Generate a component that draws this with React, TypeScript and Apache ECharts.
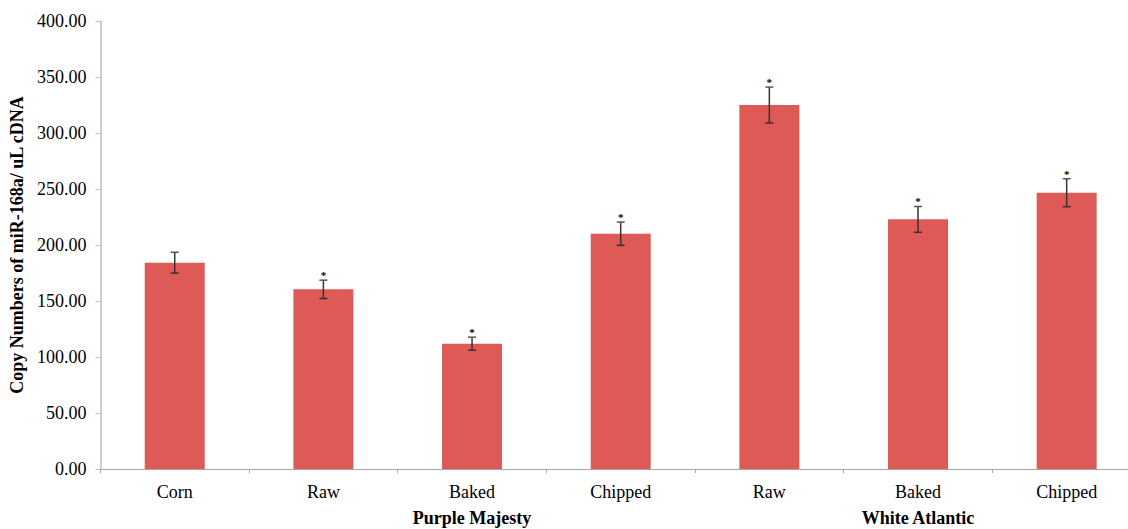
import React, { useEffect, useRef } from "react";
import * as echarts from "echarts";

const categories = ["Corn", "Raw", "Baked", "Chipped", "Raw", "Baked", "Chipped"];
const groupLabels = ["", "", "Purple Majesty", "", "", "White Atlantic", ""];
const values = [184.2, 160.4, 111.9, 210.1, 325.0, 222.9, 246.7];
const errors = [9.3, 8.2, 5.8, 10.4, 16.0, 11.5, 12.5];
const significant = [false, true, true, true, true, true, true];
const yTicks = { min: 0, max: 400, interval: 50 };

const FONT = "'Liberation Serif', 'Times New Roman', serif";

export default function App() {
  const ref = useRef<HTMLDivElement>(null);
  useEffect(() => {
    if (!ref.current) return;
    const chart = echarts.init(ref.current, null, { renderer: "svg" });
    const errData = values.map((v, i) => [i, v - errors[i], v + errors[i], significant[i] ? 1 : 0]);
    chart.setOption({
      animation: false,
      grid: { left: 96, top: 21, height: 448, width: 1045, containLabel: false },
      xAxis: [
        {
          type: "category",
          data: categories,
          position: "bottom",
          axisLine: { lineStyle: { color: "#a6a6a6", width: 1 } },
          axisTick: { show: true, length: 4, lineStyle: { color: "#a6a6a6" } },
          axisLabel: { fontFamily: FONT, fontSize: 18, color: "#000", margin: 14 },
        },
        {
          type: "category",
          data: groupLabels,
          position: "bottom",
          offset: 26,
          axisLine: { show: false },
          axisTick: { show: false },
          axisLabel: { fontFamily: FONT, fontSize: 18, fontWeight: "bold", color: "#000", margin: 14, interval: 0 },
        },
      ],
      yAxis: {
        type: "value",
        min: yTicks.min,
        max: yTicks.max,
        interval: yTicks.interval,
        name: "Copy Numbers of miR-168a/ uL cDNA",
        nameLocation: "middle",
        nameGap: 68,
        nameTextStyle: { fontFamily: FONT, fontSize: 18, fontWeight: "bold", color: "#000" },
        axisLine: { show: true, lineStyle: { color: "#bfbfbf", width: 1.5 } },
        axisTick: { show: true, length: 5, lineStyle: { color: "#bfbfbf" } },
        splitLine: { show: false },
        axisLabel: {
          fontFamily: FONT,
          fontSize: 18,
          color: "#000",
          margin: 14,
          formatter: (v: number) => v.toFixed(2),
        },
      },
      series: [
        {
          type: "bar",
          data: values,
          barWidth: 60,
          itemStyle: { color: "#DD5A56" },
          xAxisIndex: 0,
        },
        {
          type: "custom",
          xAxisIndex: 0,
          data: errData,
          z: 10,
          renderItem: (params: any, api: any) => {
            const x = api.value(0);
            const lo = api.coord([x, api.value(1)]);
            const hi = api.coord([x, api.value(2)]);
            const cap = 4;
            const children: any[] = [
              { type: "line", shape: { x1: lo[0], y1: lo[1], x2: hi[0], y2: hi[1] }, style: { stroke: "#3d3030", lineWidth: 1.5 } },
              { type: "line", shape: { x1: lo[0] - cap, y1: lo[1], x2: lo[0] + cap, y2: lo[1] }, style: { stroke: "#3d3030", lineWidth: 1.5 } },
              { type: "line", shape: { x1: hi[0] - cap, y1: hi[1], x2: hi[0] + cap, y2: hi[1] }, style: { stroke: "#555", lineWidth: 1.5 } },
            ];
            if (api.value(3)) {
              children.push({
                type: "text",
                style: {
                  text: "*",
                  x: hi[0],
                  y: hi[1] - 5,
                  align: "center",
                  verticalAlign: "middle",
                  fontFamily: FONT,
                  fontSize: 11,
                  fontWeight: "bold",
                  fill: "#000",
                },
              });
            }
            return { type: "group", children };
          },
        },
      ],
    });
    return () => chart.dispose();
  }, []);
  return (
    <div style={{ width: 1128, height: 529, position: "absolute", left: 0, top: 0, overflow: "hidden" }}>
      <div ref={ref} style={{ width: 1150, height: 529 }} />
    </div>
  );
}
